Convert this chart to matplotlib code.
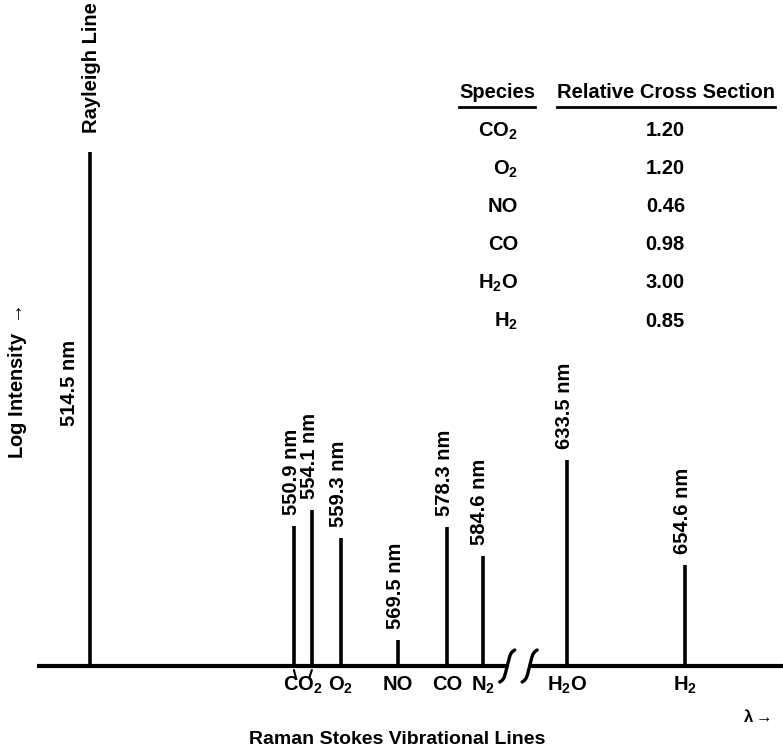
import numpy as np
import matplotlib
matplotlib.use("Agg")
import matplotlib.pyplot as plt
from matplotlib.lines import Line2D
import matplotlib.transforms as mtransforms

plt.rcParams['font.family'] = ['Liberation Sans', 'DejaVu Sans']
plt.rcParams['font.weight'] = 'bold'
plt.rcParams['mathtext.default'] = 'regular'

# ---- spectrum data -------------------------------------------------------
line_wl     = [514.5, 550.9, 554.1, 559.3, 569.5, 578.3, 584.6, 633.5, 654.6]
line_height = [5.14, 1.40, 1.56, 1.28, 0.26, 1.39, 1.10, 2.06, 1.01]
line_label  = ["514.5 nm", "550.9 nm", "554.1 nm", "559.3 nm", "569.5 nm",
               "578.3 nm", "584.6 nm", "633.5 nm", "654.6 nm"]

tick_species = ['CO$_2$', 'O$_2$', 'NO', 'CO', 'N$_2$', 'H$_2$O', 'H$_2$']
tick_wl      = [(550.9 + 554.1) / 2, 559.3, 569.5, 578.3, 584.6, 633.5, 654.6]

table_species = ['CO$_2$', 'O$_2$', 'NO', 'CO', 'H$_2$O', 'H$_2$']
cross_section = [1.20, 1.20, 0.46, 0.98, 3.00, 0.85]

# broken wavelength axis: 589 .. 626.8 nm squeezed into a short gap
BREAK = (589.0, 626.8)
AX_IN  = [0.0, BREAK[0], BREAK[1], 2000.0]
AX_OUT = [0.0, BREAK[0], BREAK[0] + 4.0, 2000.0 - (BREAK[1] - BREAK[0] - 4.0)]


def forward(x):
    return np.interp(x, AX_IN, AX_OUT)


def inverse(y):
    return np.interp(y, AX_OUT, AX_IN)


W, H = 783, 753
fig = plt.figure(figsize=(W / 100, H / 100), dpi=100, facecolor='white')
ax = fig.add_axes([0, 0, 1, 1])
ax.set_xscale('function', functions=(forward, inverse))
ax.set_xlim(498.4, 672.05)
ax.set_ylim(-0.87, 6.66)
ax.axis('off')

FS = 14.5

# baseline, interrupted at the break
ax.hlines([0, 0], [505.0, BREAK[1]], [BREAK[0], 672.05], color='black', lw=3.0)

# break marks
s = np.linspace(-1, 1, 40)
bx = 0.04 * s + 0.035 * s ** 7
by = 0.16 * s
for xb in BREAK:
    tr = fig.dpi_scale_trans + mtransforms.ScaledTranslation(xb, 0, ax.transData)
    ax.add_line(Line2D(bx, by, transform=tr, color='black', lw=2.4,
                       solid_capstyle='round'))

# spectral lines
ax.vlines(line_wl, 0, line_height, color='black', lw=2.6)

for wl, h, lab in zip(line_wl[1:], line_height[1:], line_label[1:]):
    ax.annotate(lab, xy=(wl, h), xytext=(-2, 8), textcoords='offset points',
                rotation=90, ha='center', va='bottom', fontsize=FS)

# Rayleigh line labels
ax.annotate("Rayleigh Line", xy=(line_wl[0], 6.64), xytext=(1, 0),
            textcoords='offset points', rotation=90, ha='center', va='top',
            fontsize=FS)
ax.annotate(line_label[0], xy=(line_wl[0], 2.83), xytext=(-15, 0),
            textcoords='offset points', rotation=90, ha='center', va='center',
            fontsize=FS)

# species under the axis
for wl, sp in zip(tick_wl, tick_species):
    ax.text(wl, -0.09, sp, ha='center', va='top', fontsize=FS)

# little leaders from both CO2 lines to their label
for wl, dx in [(550.9, 1.5), (554.1, -2.0)]:
    ax.annotate('', xy=(wl, -0.04), xytext=(dx, -6), textcoords='offset points',
                arrowprops=dict(arrowstyle='-', lw=1.5, shrinkA=0, shrinkB=0))

fig.text(397 / W, 1 - 740 / H, "Raman Stokes Vibrational Lines",
         ha='center', va='center', fontsize=14)
fig.text(757 / W, 1 - 716 / H, r"λ$\rightarrow$", ha='center', va='center',
         fontsize=12)
fig.text(18 / W, 1 - 382 / H, r"Log Intensity $\rightarrow$", rotation=90,
         ha='center', va='center', fontsize=FS)

# cross-section table
head_y = 1 - 93 / H
h1 = fig.text(497 / W, head_y, "Species", ha='center', va='center', fontsize=FS)
h2 = fig.text(666 / W, head_y, "Relative Cross Section", ha='center',
              va='center', fontsize=FS)

row_y = 131
for sp, val in zip(table_species, cross_section):
    fig.text(518 / W, 1 - row_y / H, sp, ha='right', va='center', fontsize=FS)
    fig.text(685 / W, 1 - row_y / H, f"{val:.2f}", ha='right', va='center',
             fontsize=FS)
    row_y += 38

fig.canvas.draw()
renderer = fig.canvas.get_renderer()
for t in (h1, h2):
    bb = t.get_window_extent(renderer)
    y_line = 1 - 107 / H
    fig.add_artist(Line2D([bb.x0 / W, bb.x1 / W], [y_line, y_line],
                          transform=fig.transFigure, color='black', lw=2.0))

fig.savefig('out.png', dpi=100, facecolor='white')
